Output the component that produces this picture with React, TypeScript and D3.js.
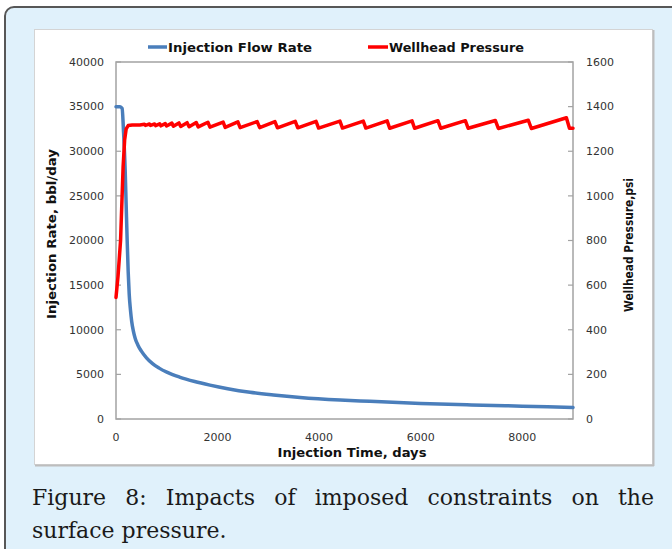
import React, { useLayoutEffect, useRef, useState } from 'react';
import * as d3 from 'd3';

// Injection flow rate (bbl/day) vs injection time (days)
const rateDays = [0, 80, 120, 150, 180, 200, 220, 240, 260, 285, 310, 340, 380, 430, 500, 600, 720, 850, 1000, 1250, 1550, 1850, 2200, 2640, 3100, 3626, 4414, 5000, 6000, 7000, 8000, 9000];
const rateValues = [35000, 35000, 34800, 32000, 28000, 24000, 20000, 16500, 14000, 12200, 10900, 9900, 9000, 8300, 7600, 6850, 6200, 5700, 5250, 4700, 4200, 3800, 3400, 3000, 2700, 2420, 2130, 1980, 1740, 1580, 1440, 1300];

// Wellhead pressure (psi) vs injection time (days)
const pressureDays = [0, 40, 90, 140, 170, 200, 240, 320, 470,
  560, 580, 660, 680, 760, 780, 860, 885, 970, 995,
  1100, 1130, 1240, 1275, 1400, 1440, 1580, 1620, 1810, 1850, 2110, 2150, 2400, 2445,
  2780, 2830, 3130, 3180, 3530, 3580, 3940, 3990, 4410, 4460, 4870, 4920, 5340, 5390,
  5830, 5880, 6340, 6395, 6880, 6935, 7470, 7530, 8120, 8180, 8870, 8930, 9000];
const pressureValues = [545, 640, 800, 1130, 1250, 1300, 1315, 1318, 1318,
  1321, 1316, 1322, 1316, 1322, 1315, 1323, 1314, 1324, 1313,
  1326, 1312, 1327, 1311, 1328, 1310, 1329, 1309, 1330, 1308, 1331, 1307, 1332, 1306,
  1333, 1306, 1333, 1305, 1334, 1305, 1334, 1304, 1335, 1304, 1335, 1304, 1336, 1303,
  1336, 1303, 1337, 1303, 1337, 1303, 1338, 1302, 1339, 1302, 1350, 1303, 1303];

const leftTicks = [0, 5000, 10000, 15000, 20000, 25000, 30000, 35000, 40000];
const rightTicks = [0, 200, 400, 600, 800, 1000, 1200, 1400, 1600];
const xTicks = [0, 2000, 4000, 6000, 8000];

const seriesNames = ['Injection Flow Rate', 'Wellhead Pressure'];
const xTitle = 'Injection Time, days';
const yLeftTitle = 'Injection Rate, bbl/day';
const yRightTitle = 'Wellhead Pressure,psi';
const captionLine1 = 'Figure 8: Impacts of imposed constraints on the';
const captionLine2 = 'surface pressure.';

const BLUE = '#4a7ebb';
const RED = '#ff0000';
const AXIS = '#a3a3a3';
const LABEL_FONT = '"DejaVu Sans", Verdana, sans-serif';

export default function App() {
  const left = 116, right = 573, top = 62, bottom = 419;
  const x = d3.scaleLinear().domain([0, 9000]).range([left, right]);
  const yL = d3.scaleLinear().domain([0, 40000]).range([bottom, top]);
  const yR = d3.scaleLinear().domain([0, 1600]).range([bottom, top]);

  const rateLine = d3.line<number>()
    .x((_, i) => x(rateDays[i]))
    .y((d) => yL(d))
    .curve(d3.curveMonotoneX);
  const pressureLine = d3.line<number>()
    .x((_, i) => x(pressureDays[i]))
    .y((d) => yR(d));

  const capRef = useRef<SVGTextElement>(null);
  const [wordSpacing, setWordSpacing] = useState(0);
  useLayoutEffect(() => {
    if (capRef.current) {
      const w = capRef.current.getComputedTextLength();
      const words = captionLine1.split(' ').length;
      setWordSpacing((654 - 32 - w) / (words - 1));
    }
  }, []);

  return (
    <div style={{ position: 'absolute', left: 0, top: 0 }}>
      <svg width={672} height={549} style={{ display: 'block' }}>
        <rect x={0} y={0} width={672} height={549} fill="#ffffff" />
        {/* outer figure frame */}
        <rect x={5} y={7} width={690} height={580} rx={9} fill="#e0f1fb" stroke="#575757" strokeWidth={2} />
        {/* chart box */}
        <rect x={34.5} y={29.5} width={618} height={435} fill="#ffffff" stroke="#d4d4d4" strokeWidth={1} />
        <line x1={653.5} y1={30} x2={653.5} y2={466} stroke="#bdbdbd" strokeWidth={2} />
        <line x1={35} y1={465.5} x2={654} y2={465.5} stroke="#bdbdbd" strokeWidth={2} />

        {/* plot border / axes */}
        <rect x={left} y={top} width={right - left} height={bottom - top} fill="none" stroke={AXIS} strokeWidth={1.5} />

        {/* left ticks & labels */}
        {leftTicks.map((t) => (
          <g key={'l' + t}>
            <line x1={left} x2={left + 5} y1={yL(t)} y2={yL(t)} stroke={AXIS} strokeWidth={1.2} />
            <text x={104} y={yL(t)} dy="0.35em" textAnchor="end" fontFamily={LABEL_FONT} fontSize={11} fill="#333">{t}</text>
          </g>
        ))}
        {/* right ticks & labels */}
        {rightTicks.map((t) => (
          <g key={'r' + t}>
            <line x1={right - 5} x2={right} y1={yR(t)} y2={yR(t)} stroke={AXIS} strokeWidth={1.2} />
            <text x={586} y={yR(t)} dy="0.35em" textAnchor="start" fontFamily={LABEL_FONT} fontSize={11} fill="#333">{t}</text>
          </g>
        ))}
        {/* x labels */}
        {xTicks.map((t) => (
          <text key={'x' + t} x={x(t)} y={437} dy="0.35em" textAnchor="middle" fontFamily={LABEL_FONT} fontSize={11} fill="#333">{t}</text>
        ))}

        {/* titles */}
        <text x={352} y={457} textAnchor="middle" fontFamily={LABEL_FONT} fontWeight="bold" fontSize={12.5} fill="#111" textLength={149} lengthAdjust="spacingAndGlyphs">{xTitle}</text>
        <text transform="translate(56,234) rotate(-90)" textAnchor="middle" fontFamily={LABEL_FONT} fontWeight="bold" fontSize={12.5} fill="#111" textLength={170} lengthAdjust="spacingAndGlyphs">{yLeftTitle}</text>
        <text transform="translate(633,245) rotate(-90)" textAnchor="middle" fontFamily={LABEL_FONT} fontWeight="bold" fontSize={11.5} fill="#111" textLength={134} lengthAdjust="spacingAndGlyphs">{yRightTitle}</text>

        {/* legend */}
        <line x1={148} x2={167} y1={47} y2={47} stroke={BLUE} strokeWidth={3.5} />
        <text x={168} y={51.5} fontFamily={LABEL_FONT} fontWeight="bold" fontSize={12.5} fill="#111" textLength={144} lengthAdjust="spacingAndGlyphs">{seriesNames[0]}</text>
        <line x1={368} x2={388} y1={47} y2={47} stroke={RED} strokeWidth={3.5} />
        <text x={389} y={51.5} fontFamily={LABEL_FONT} fontWeight="bold" fontSize={12.5} fill="#111" textLength={135} lengthAdjust="spacingAndGlyphs">{seriesNames[1]}</text>

        {/* series */}
        <path d={rateLine(rateValues) || ''} fill="none" stroke={BLUE} strokeWidth={3.5} strokeLinejoin="round" strokeLinecap="round" />
        <path d={pressureLine(pressureValues) || ''} fill="none" stroke={RED} strokeWidth={3.5} strokeLinejoin="round" strokeLinecap="round" />

        {/* caption */}
        <text ref={capRef} x={32} y={505} fontFamily='"DejaVu Serif", serif' fontSize={22} fill="#1a1a1a" style={{ wordSpacing: wordSpacing + 'px' }}>{captionLine1}</text>
        <text x={32} y={538} fontFamily='"DejaVu Serif", serif' fontSize={22} fill="#1a1a1a">{captionLine2}</text>
      </svg>
    </div>
  );
}
